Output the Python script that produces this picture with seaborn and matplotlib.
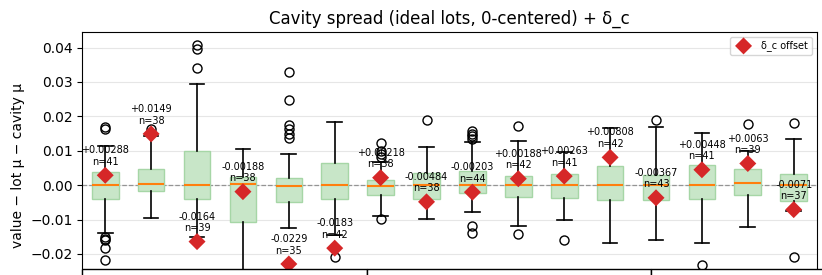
import matplotlib
matplotlib.use("Agg")
import matplotlib.pyplot as plt
import seaborn as sns
import numpy as np

# Box statistics per cavity (value - lot mean - cavity mean)
q1 = [-0.0039, -0.0017, -0.0041, -0.0106, -0.0050, -0.0041, -0.0029, -0.0041,
      -0.0023, -0.0035, -0.0038, -0.0043, -0.0043, -0.0040, -0.0029, -0.0045]
med = [0.0, 0.0003, 0.0, 0.0003, -0.0003, 0.0, -0.0003, 0.0,
       0.0, 0.0, 0.0, 0.0, 0.0, 0.0, 0.0007, 0.0]
q3 = [0.0038, 0.0047, 0.0098, 0.0023, 0.0020, 0.0064, 0.0015, 0.0035,
      0.0040, 0.0028, 0.0032, 0.0057, 0.0030, 0.0058, 0.0047, 0.0033]
whislo = [-0.0140, -0.0095, -0.0152, -0.0270, -0.0125, -0.0145, -0.0091, -0.0098,
          -0.0078, -0.0118, -0.0101, -0.0169, -0.0159, -0.0169, -0.0122, -0.0075]
whishi = [0.0115, 0.0142, 0.0293, 0.0105, 0.0091, 0.0183, 0.0066, 0.0110,
          0.0125, 0.0127, 0.0095, 0.0165, 0.0169, 0.0151, 0.0100, 0.0134]
fliers = [
    [0.0163, 0.0168, -0.0150, -0.0155, -0.0158, -0.0182, -0.0216],
    [0.0162],
    [0.0341, 0.0395, 0.0408],
    [],
    [0.0136, 0.0148, 0.0162, 0.0174, 0.0247, 0.0328],
    [-0.0210],
    [0.0082, 0.0090, 0.0098, 0.0124, -0.0099],
    [0.0188],
    [0.0135, 0.0142, 0.0150, 0.0156, -0.0118, -0.0140],
    [0.0171, -0.0142],
    [-0.0159],
    [],
    [0.0190],
    [-0.0233],
    [0.0178],
    [0.0181, -0.0208],
]

# per-cavity offset delta_c and sample counts
delta_c = [0.00288, 0.0149, -0.0164, -0.00188, -0.0229, -0.0183, 0.00218, -0.00484,
           -0.00203, 0.00188, 0.00263, 0.00808, -0.00367, 0.00448, 0.0063, -0.0071]
n_obs = [41, 38, 39, 38, 35, 42, 38, 38, 44, 42, 41, 42, 43, 41, 39, 37]

yticks = [-0.02, -0.01, 0.0, 0.01, 0.02, 0.03, 0.04]

pos = np.arange(1, len(q1) + 1)

stats = []
for i in range(len(q1)):
    stats.append(dict(q1=q1[i], med=med[i], q3=q3[i],
                      whislo=whislo[i], whishi=whishi[i], fliers=fliers[i]))

fig = plt.figure(figsize=(8.22, 2.75), dpi=100)
ylo, yhi = -0.033, 0.0446
ax = fig.add_axes([0.1001, 0.8847 - 0.971, 0.8934, 0.971])

ax.bxp(stats, positions=pos, widths=0.58, capwidths=0.32, patch_artist=True,
       boxprops=dict(facecolor="#c8e6c8", edgecolor="#a6d6a6", linewidth=1.0),
       medianprops=dict(color="#ff7f0e", linewidth=1.5),
       whiskerprops=dict(color="black", linewidth=1.2),
       capprops=dict(color="black", linewidth=1.2),
       flierprops=dict(marker="o", markerfacecolor="none",
                       markeredgecolor="black", markersize=6.5))

ax.axhline(0, color="gray", ls="--", lw=0.9, alpha=0.8, zorder=1)

sns.scatterplot(x=pos, y=delta_c, marker="D", s=75, color="#d62728",
                edgecolor="none", zorder=4, label="δ_c offset", ax=ax)

for p, d, n in zip(pos, delta_c, n_obs):
    ax.annotate(f"{d:+.3g}\nn={n}", (p, d), xytext=(0, 6),
                textcoords="offset points", ha="center", va="bottom",
                fontsize=7, zorder=5)

ax.set_xlim(0.5, len(q1) + 0.5)
ax.set_ylim(ylo, yhi)
ax.set_yticks(yticks)
ax.set_xticks([])
ax.grid(axis="y", color="#e6e6e6", lw=0.8)
ax.set_axisbelow(True)
ax.set_ylabel("value − lot μ − cavity μ", fontsize=10)
ax.set_title("Cavity spread (ideal lots, 0-centered) + δ_c", fontsize=12)
ax.legend(loc="upper right", fontsize=7)

# summary table sitting over the lower part of the axes
top = (-0.0245 - ylo) / (yhi - ylo)
tab = ax.table(cellText=[["", "", ""]], bbox=[0, -0.6, 3 * 0.3874, top + 0.6])
tab.set_zorder(10)

fig.savefig("out.png", dpi=100)
